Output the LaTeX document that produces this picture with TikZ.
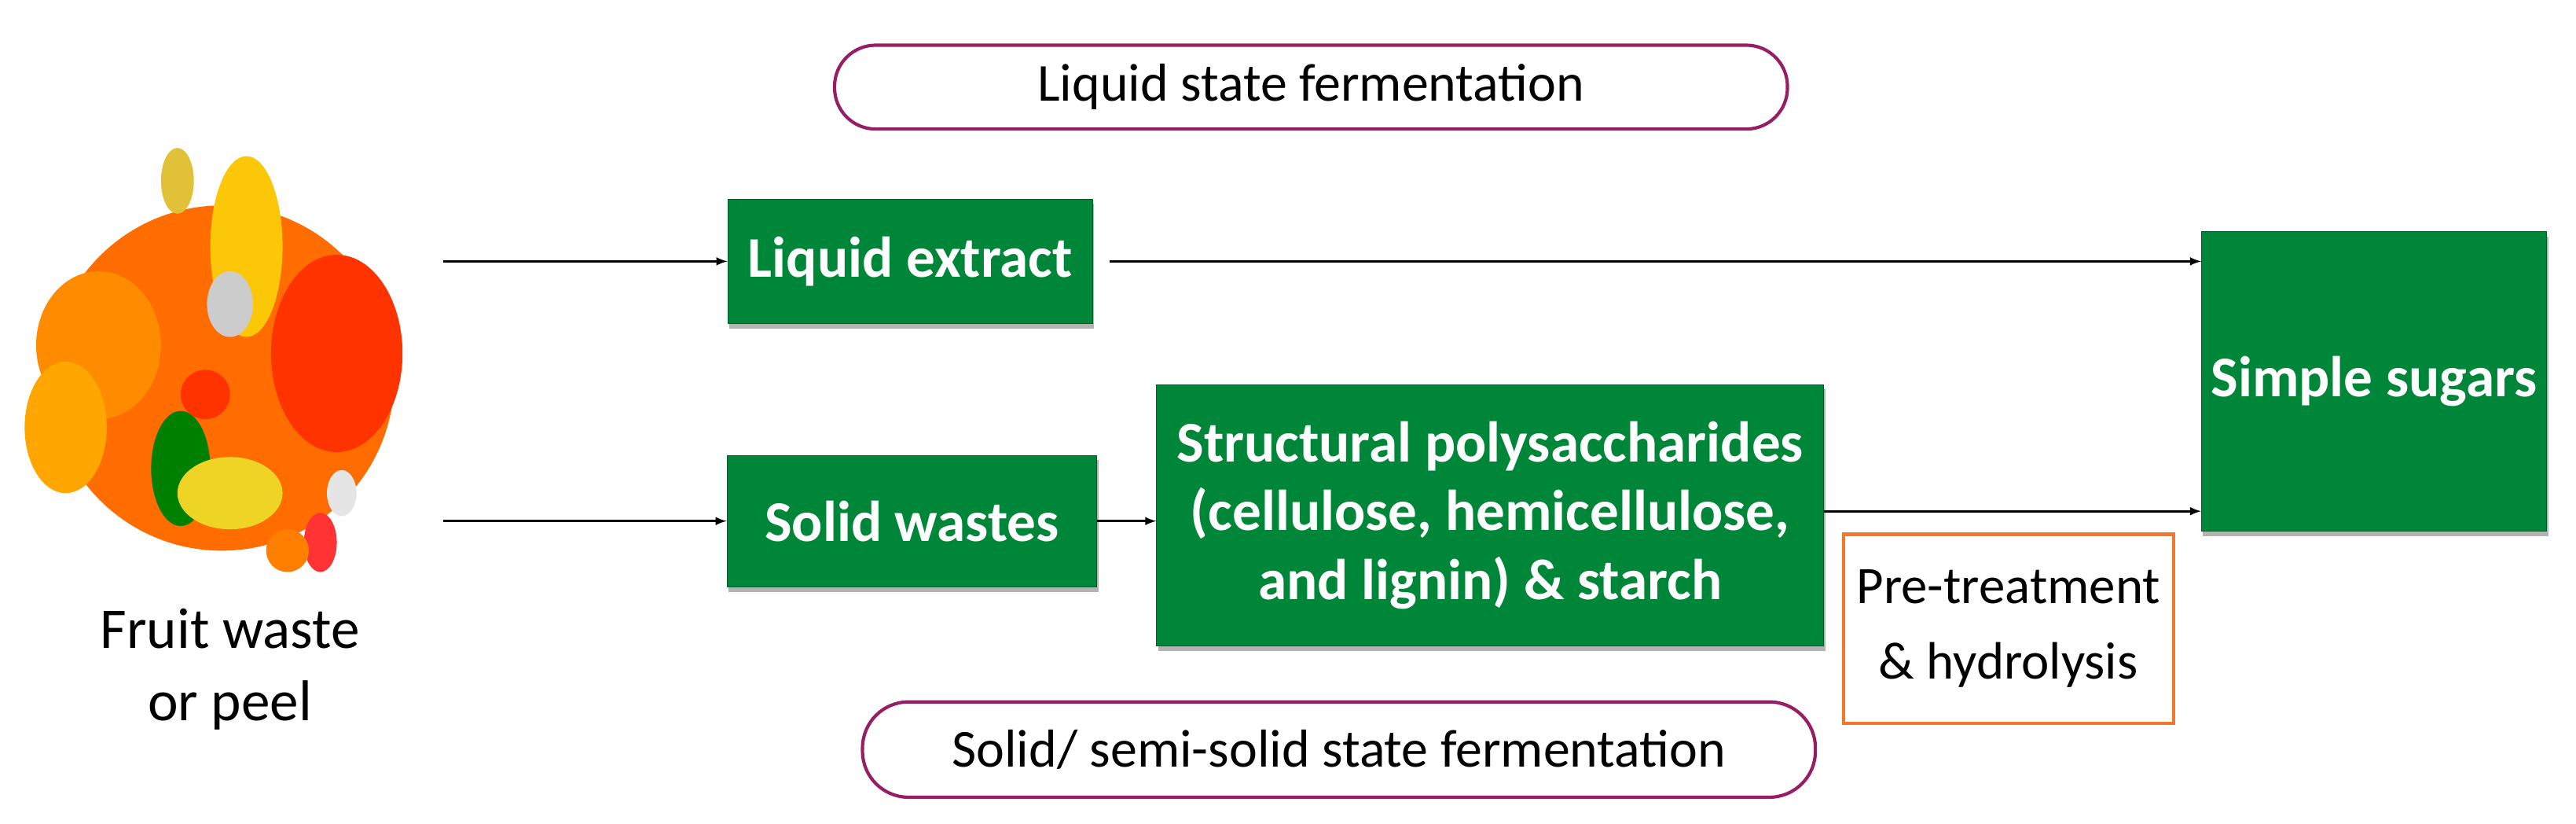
\documentclass[tikz,border=0pt]{standalone}
\usepackage{fontspec}
\setmainfont{Carlito}
\usetikzlibrary{shadows}
\definecolor{gr}{RGB}{0,134,57}
\definecolor{pl}{RGB}{150,30,100}
\definecolor{og}{RGB}{240,120,40}
\begin{document}
\begin{tikzpicture}[x=1pt,y=-1pt,
 box/.style={draw=gr!70!black,fill=gr,text=white,font=\fontsize{35}{42}\selectfont\bfseries,align=center,inner sep=0pt,drop shadow={shadow xshift=1pt,shadow yshift=-3pt,opacity=0.6}},
 oval/.style={draw=pl,line width=2pt,inner sep=0pt,font=\fontsize{32.5}{39}\selectfont},
 arr/.style={-latex,line width=1.3pt}]
\useasboundingbox (0,0) rectangle (1568,501);
% fruit pile approximation
\begin{scope}
\fill[orange!85!red] (135,230) ellipse (105 and 105);
\fill[yellow!60!orange] (150,150) ellipse (22 and 55);
\fill[yellow!50!brown] (108,110) ellipse (10 and 20);
\fill[orange!90!yellow] (60,210) ellipse (38 and 45);
\fill[red!60!orange] (205,215) ellipse (40 and 60);
\fill[green!50!black] (110,285) ellipse (18 and 35);
\fill[yellow!70!brown] (140,300) ellipse (32 and 22);
\fill[gray!40] (140,185) ellipse (14 and 20);
\fill[orange!70!yellow] (40,260) ellipse (25 and 40);
\fill[red!80] (195,330) ellipse (10 and 18);
\fill[white!80!gray] (208,300) ellipse (9 and 14);
\fill[orange] (175,335) ellipse (13 and 13);
\fill[red!60!orange] (125,240) ellipse (15 and 15);
\end{scope}
\node[font=\fontsize{35}{44}\selectfont,align=center] (fw) at (140,407) {Fruit waste\\or peel};
\coordinate (s1) at (270,159);
\coordinate (s2) at (270,317);
\node[oval,minimum width=580,minimum height=51,rounded corners=25pt] (lsf) at (798,53) {Liquid state fermentation};
\node[oval,minimum width=580,minimum height=58,rounded corners=28pt] (ssf) at (815,456) {Solid/ semi-solid state fermentation};
\node[box,minimum width=222,minimum height=76] (le) at (554,159) {Liquid extract};
\node[box,minimum width=225,minimum height=80] (sw) at (555,317) {Solid wastes};
\node[box,minimum width=406,minimum height=159] (sp) at (907,313.5) {Structural polysaccharides\\(cellulose, hemicellulose,\\and lignin) \& starch};
\node[box,minimum width=210,minimum height=182] (ss) at (1445,232) {Simple sugars};
\node[draw=og,line width=2pt,minimum width=201,minimum height=115,align=center,font=\fontsize{32}{46}\selectfont] (pt) at (1222.5,382.5) {Pre-treatment\\\& hydrolysis};
\draw[arr] (s1) -- (le.west);
\draw[arr] (s2) -- (sw.west);
\draw[arr] ([xshift=10pt]le.east) -- (ss.west |- le.east);
\draw[arr] (sw.east) -- (sp.west |- sw.east);
\draw[arr] (sp.east |- 0,311) -- (ss.west |- 0,311);
\end{tikzpicture}
\end{document}
